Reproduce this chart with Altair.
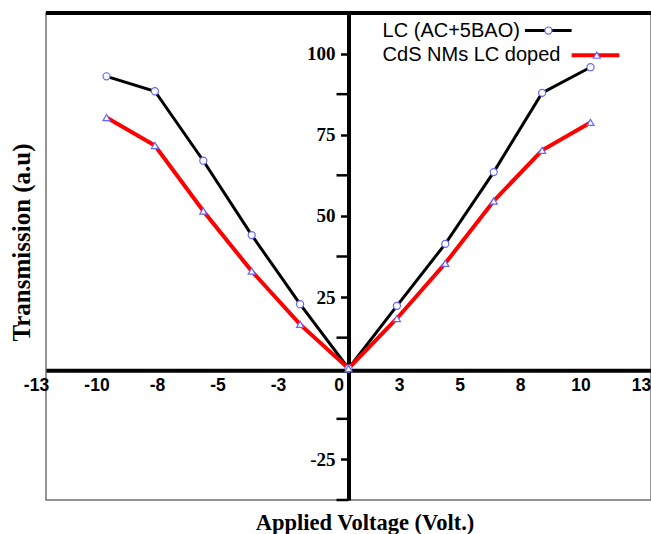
import altair as alt
import pandas as pd

# ---------------- data ----------------
series_names = ["LC (AC+5BAO)", "CdS NMs LC doped"]
voltage = [-10, -8, -6, -4, -2, 0, 2, 4, 6, 8, 10]
lc_values = [93.0, 88.4, 67.0, 44.1, 22.8, 3.0, 22.3, 41.4, 63.5, 87.9, 95.8]
cds_values = [80.3, 71.7, 51.5, 33.0, 16.6, 3.0, 18.4, 35.4, 54.6, 70.2, 78.8]

x_ticks = [-12.5, -10, -7.5, -5, -2.5, 0, 2.5, 5, 7.5, 10, 12.5]
y_major_ticks = [100, 75, 50, 25, -25]
y_minor_ticks = [87.5, 62.5, 37.5, 12.5, -12.5, -37.5]
x_domain = [-12.5, 12.5]
y_domain = [-37.5, 112.5]
x_axis_crossing = 2.5   # transmission value where the voltage axis is drawn
y_axis_crossing = 0     # voltage value where the transmission axis is drawn

# ---------------- legend layout (in data units) ----------------
legend_text_x = 1.41
legend_row_y = [107.1, 99.5]
legend_line_x1 = [7.29, 9.22]
legend_line_x2 = [9.22, 11.19]
legend_marker_x = [8.26, 10.26]

# ---------------- layout ----------------
W, H = 605, 487
y_axis_offset = -W * (y_axis_crossing - x_domain[0]) / (x_domain[1] - x_domain[0])
x_axis_offset = -H * (x_axis_crossing - y_domain[0]) / (y_domain[1] - y_domain[0])

rows = []
for name, vals in zip(series_names, [lc_values, cds_values]):
    for v, t in zip(voltage, vals):
        rows.append({"V": v, "T": t, "series": name})
df = pd.DataFrame(rows)
df_minor = pd.DataFrame({"V": [y_axis_crossing] * len(y_minor_ticks), "T": y_minor_ticks})
df_top = pd.DataFrame({"T": [y_domain[1]]})
df_legend = pd.DataFrame({
    "series": series_names,
    "tx": [legend_text_x] * len(series_names),
    "T": legend_row_y,
    "x1": legend_line_x1,
    "x2": legend_line_x2,
    "V": legend_marker_x,
})

label_expr = "(datum.value < 0 ? '-' : '') + format(abs(datum.value), '.0f')"

x_axis = alt.Axis(
    values=x_ticks, orient="bottom", offset=x_axis_offset, ticks=False,
    domainColor="black", domainWidth=4, grid=False,
    labelExpr=label_expr, labelFont="Liberation Sans", labelFontWeight="bold",
    labelFontSize=17.5, labelColor="black", labelPadding=6, labelOffset=-10,
    labelFlush=False, labelOverlap=False,
    title="Applied Voltage (Volt.)", titleFont="Liberation Serif",
    titleFontWeight="bold", titleFontSize=22.5, titleColor="black",
    titleX=318.5, titleY=159, titleBaseline="alphabetic", titleAlign="center",
)
y_axis = alt.Axis(
    values=y_major_ticks, orient="left", offset=y_axis_offset,
    tickSize=8, tickWidth=2.5, tickColor="black",
    domainColor="black", domainWidth=4, grid=False,
    labelExpr=label_expr, labelFont="Liberation Serif", labelFontWeight="bold",
    labelFontSize=19, labelColor="black", labelPadding=5.5,
    title="Transmission (a.u)", titleFont="Liberation Serif",
    titleFontWeight="bold", titleFontSize=25, titleColor="black",
    titleX=-327.5, titleY=229, titleAngle=270, titleBaseline="middle",
    titleAlign="center",
)

x_scale = alt.Scale(domain=x_domain, nice=False, zero=False)
y_scale = alt.Scale(domain=y_domain, nice=False, zero=False)


def X(field):
    return alt.X(field, type="quantitative", scale=x_scale, axis=x_axis)


def Y(field):
    return alt.Y(field, type="quantitative", scale=y_scale, axis=y_axis)


color = alt.Color("series:N", scale=alt.Scale(domain=series_names, range=["black", "red"]),
                  legend=None)
width_enc = alt.StrokeWidth("series:N", scale=alt.Scale(domain=series_names, range=[3, 4]),
                            legend=None)
shape = alt.Shape("series:N", scale=alt.Scale(domain=series_names,
                                              range=["circle", "triangle-up"]),
                  legend=None)
marker_style = dict(filled=True, fill="white", stroke="#6666ff", strokeWidth=1.2,
                    size=50, opacity=1)

lines = alt.Chart(df).mark_line().encode(x=X("V"), y=Y("T"), color=color, strokeWidth=width_enc)
points = alt.Chart(df).mark_point(**marker_style).encode(x=X("V"), y=Y("T"), shape=shape)

minor = alt.Chart(df_minor).mark_tick(
    orient="horizontal", size=12, thickness=2.5, color="black", xOffset=-6, opacity=1
).encode(x=X("V"), y=Y("T"))

top_line = alt.Chart(df_top).mark_rule(color="black", strokeWidth=4).encode(y=Y("T"))

leg_text = alt.Chart(df_legend).mark_text(
    align="left", baseline="middle", font="Liberation Sans", fontSize=20, color="black"
).encode(x=X("tx"), y=Y("T"), text="series:N")
leg_line = alt.Chart(df_legend).mark_rule(strokeCap="butt").encode(
    x=X("x1"), x2="x2", y=Y("T"), color=color, strokeWidth=width_enc
)
leg_mark = alt.Chart(df_legend).mark_point(**marker_style).encode(x=X("V"), y=Y("T"), shape=shape)

chart = alt.layer(minor, top_line, lines, points, leg_text, leg_line, leg_mark).properties(
    width=W, height=H,
    autosize=alt.AutoSizeParams(type="none"),
    padding={"left": 46, "top": 13, "right": 0, "bottom": 34},
    background="white",
).configure_view(stroke="#707070", strokeWidth=1.5)

chart.save("out.html", embed_options={"renderer": "svg", "actions": False})
